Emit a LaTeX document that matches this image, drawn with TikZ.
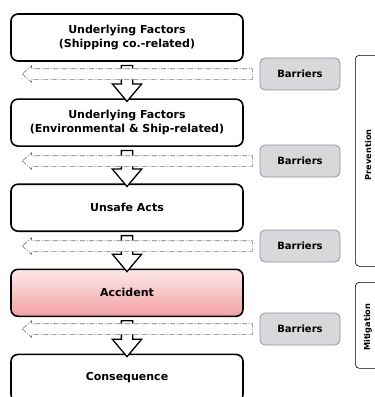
\documentclass[tikz,border=0pt]{standalone}
\usepackage{fontspec}
\setmainfont{DejaVu Sans}
\usetikzlibrary{positioning,shapes.arrows,calc}
\definecolor{accTop}{RGB}{253,232,232}
\definecolor{accBot}{RGB}{243,160,162}
\definecolor{barFill}{RGB}{216,216,218}
\definecolor{barLine}{RGB}{150,142,182}
\tikzset{
  factor/.style={draw=black,line width=1.6pt,rounded corners=7pt,fill=white,
    minimum width=232pt,minimum height=47pt,align=center,
    font=\fontsize{11}{14}\selectfont\bfseries},
  barrier/.style={draw=barLine,line width=0.8pt,rounded corners=5pt,fill=barFill,
    minimum width=80pt,minimum height=32pt,font=\fontsize{10}{12}\selectfont\bfseries},
  flowarrow/.style={single arrow,draw=black,line width=1.3pt,fill=white,
    shape border rotate=270,minimum height=36pt,inner sep=5pt,
    single arrow head extend=9pt,single arrow tip angle=80},
  barrierarrow/.style={single arrow,draw=black!55,line width=0.6pt,fill=white,
    dash pattern=on 5pt off 1.5pt on 1pt off 1.5pt,
    shape border rotate=180,minimum height=230pt,inner sep=5pt,
    single arrow head extend=3pt,single arrow tip angle=84},
  phase/.style={draw=black,line width=0.6pt,rounded corners=4pt,minimum width=30pt,anchor=north west},
  phaselabel/.style={rotate=90,font=\fontsize{8.2}{9}\selectfont\bfseries}
}
\begin{document}
\begin{tikzpicture}[x=1pt,y=-1pt,node distance=36.5pt]
\useasboundingbox (0,0) rectangle (375,397);
% causal chain
\node[factor] (u1) at (127,37.5) {Underlying Factors\\(Shipping co.-related)};
\node[factor,below=of u1] (u2) {Underlying Factors\\(Environmental \& Ship-related)};
\node[factor,below=of u2] (ua) {Unsafe Acts};
\node[factor,below=of ua,top color=accTop,bottom color=accBot] (acc) {Accident};
\node[factor,below=of acc] (con) {Consequence};
% hollow arrows between the steps
\node[flowarrow] (a1) at ($(u1.south)!0.5!(u2.north)$) {};
\node[flowarrow] (a2) at ($(u2.south)!0.5!(ua.north)$) {};
\node[flowarrow] (a3) at ($(ua.south)!0.5!(acc.north)$) {};
\node[flowarrow] (a4) at ($(acc.south)!0.5!(con.north)$) {};
% barriers
\node[barrier] (b1) at (300,74) {Barriers};
\node[barrier] (b2) at (300,161) {Barriers};
\node[barrier] (b3) at (300,246) {Barriers};
\node[barrier] (b4) at (300,329) {Barriers};
\node[barrierarrow,anchor=tail,xshift=-7pt] (d1) at (b1.west) {};
\node[barrierarrow,anchor=tail,xshift=-7pt] (d2) at (b2.west) {};
\node[barrierarrow,anchor=tail,xshift=-7pt] (d3) at (b3.west) {};
\node[barrierarrow,anchor=tail,xshift=-7pt] (d4) at (b4.west) {};
% phases
\node[phase,minimum height=211pt] (prev) at (355,55) {};
\node[phase,minimum height=86pt] (miti) at (355,282) {};
\node[phaselabel] at ($(prev.west)+(13,-6)$) {Prevention};
\node[phaselabel] at ($(miti.west)+(13,2)$) {Mitigation};
\end{tikzpicture}
\end{document}
